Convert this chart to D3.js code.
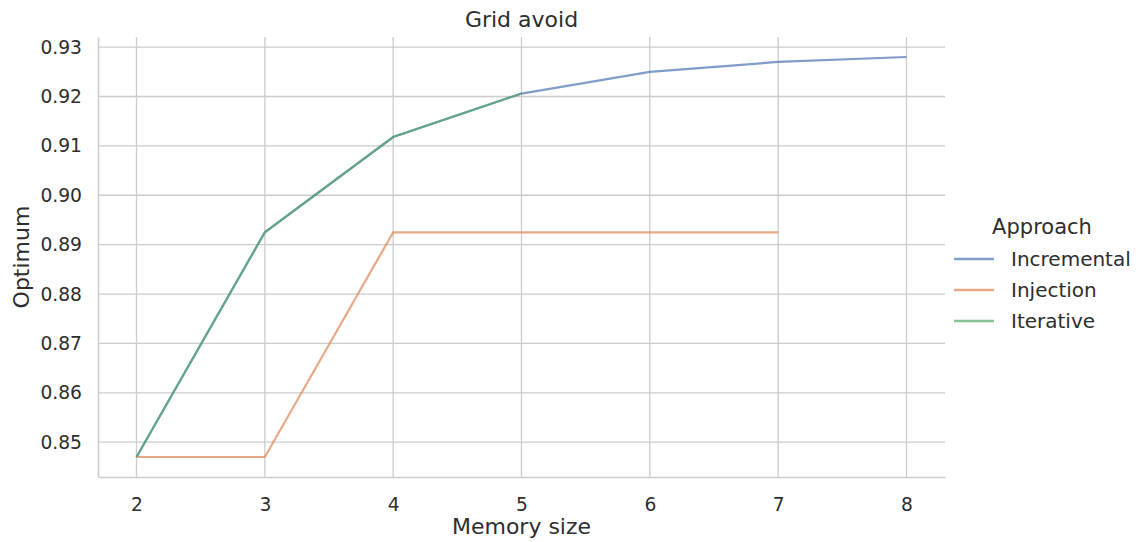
<!DOCTYPE html>
<html>
<head>
<meta charset="utf-8">
<script src="https://d3js.org/d3.v7.min.js"></script>
<style>
  body { margin: 0; background: #fff; }
  text { font-family: "DejaVu Sans", sans-serif; fill: #2e2e2e; }
</style>
</head>
<body>
<div id="chart"></div>
<script>
// data
const memorySizes = [2, 3, 4, 5, 6, 7, 8];
const incremental = [0.847, 0.8925, 0.9118, 0.9206, 0.9250, 0.9270, 0.9280];
const injection = [0.847, 0.847, 0.8925, 0.8925, 0.8925, 0.8925];
const iterative = [0.847, 0.8925, 0.9118, 0.9206];
const seriesNames = ["Incremental", "Injection", "Iterative"];
const seriesColors = ["#4c72b0", "#dd8452", "#55a868"];
const yTicks = [0.85, 0.86, 0.87, 0.88, 0.89, 0.90, 0.91, 0.92, 0.93];

const w = 1141, h = 542;
const plotLeft = 98, plotRight = 945, plotTop = 37, plotBottom = 477;

const svg = d3.select("#chart").append("svg")
    .attr("width", w)
    .attr("height", h);

const xScale = d3.scaleLinear().domain([1.7, 8.3]).range([plotLeft, plotRight]);
const yScale = d3.scaleLinear().domain([0.84295, 0.93205]).range([plotBottom, plotTop]);

// grid
svg.append("g")
    .selectAll("line")
    .data(memorySizes)
    .enter()
    .append("line")
    .attr("x1", d => xScale(d)).attr("x2", d => xScale(d))
    .attr("y1", plotTop).attr("y2", plotBottom)
    .attr("stroke", "#cccccc").attr("stroke-width", 1.3);

svg.append("g")
    .selectAll("line")
    .data(yTicks)
    .enter()
    .append("line")
    .attr("y1", d => yScale(d)).attr("y2", d => yScale(d))
    .attr("x1", plotLeft).attr("x2", plotRight)
    .attr("stroke", "#cccccc").attr("stroke-width", 1.3);

// axes (spines only, no tick marks)
const xAxis = svg.append("g")
    .attr("transform", "translate(0," + plotBottom + ")")
    .call(d3.axisBottom(xScale).tickValues(memorySizes).tickFormat(d3.format("d")).tickSize(0).tickPadding(21));
const yAxis = svg.append("g")
    .attr("transform", "translate(" + plotLeft + ",0)")
    .call(d3.axisLeft(yScale).tickValues(yTicks).tickFormat(d3.format(".2f")).tickSize(0).tickPadding(16));

[xAxis, yAxis].forEach(a => {
    a.select(".domain").attr("stroke", "#cccccc").attr("stroke-width", 1.6);
    a.selectAll("text").style("font-size", "18.7px").style("font-family", "DejaVu Sans").attr("fill", "#2e2e2e");
});

// lines
const line = d3.line()
    .x((d, i) => xScale(memorySizes[i]))
    .y(d => yScale(d));

[incremental, injection, iterative].forEach((vals, k) => {
    svg.append("path")
        .datum(vals)
        .attr("d", line)
        .attr("fill", "none")
        .attr("stroke", seriesColors[k])
        .attr("stroke-width", 2.2)
        .attr("stroke-opacity", 0.7);
});

// labels
svg.append("text")
    .attr("x", (plotLeft + plotRight) / 2)
    .attr("y", 27)
    .attr("text-anchor", "middle")
    .style("font-size", "22px")
    .text("Grid avoid");

svg.append("text")
    .attr("x", (plotLeft + plotRight) / 2)
    .attr("y", 534)
    .attr("text-anchor", "middle")
    .style("font-size", "22px")
    .text("Memory size");

svg.append("text")
    .attr("transform", "translate(29," + (plotTop + plotBottom) / 2 + ") rotate(-90)")
    .attr("text-anchor", "middle")
    .style("font-size", "22px")
    .text("Optimum");

// legend
const legend = svg.append("g");
legend.append("text")
    .attr("x", 1042)
    .attr("y", 234)
    .attr("text-anchor", "middle")
    .style("font-size", "21px")
    .text("Approach");

seriesNames.forEach((name, i) => {
    const y = 259 + i * 31;
    legend.append("line")
        .attr("x1", 954).attr("x2", 994)
        .attr("y1", y).attr("y2", y)
        .attr("stroke", seriesColors[i])
        .attr("stroke-width", 2.6)
        .attr("stroke-opacity", 0.7);
    legend.append("text")
        .attr("x", 1011)
        .attr("y", y + 7)
        .style("font-size", "20px")
        .text(name);
});
</script>
</body>
</html>
